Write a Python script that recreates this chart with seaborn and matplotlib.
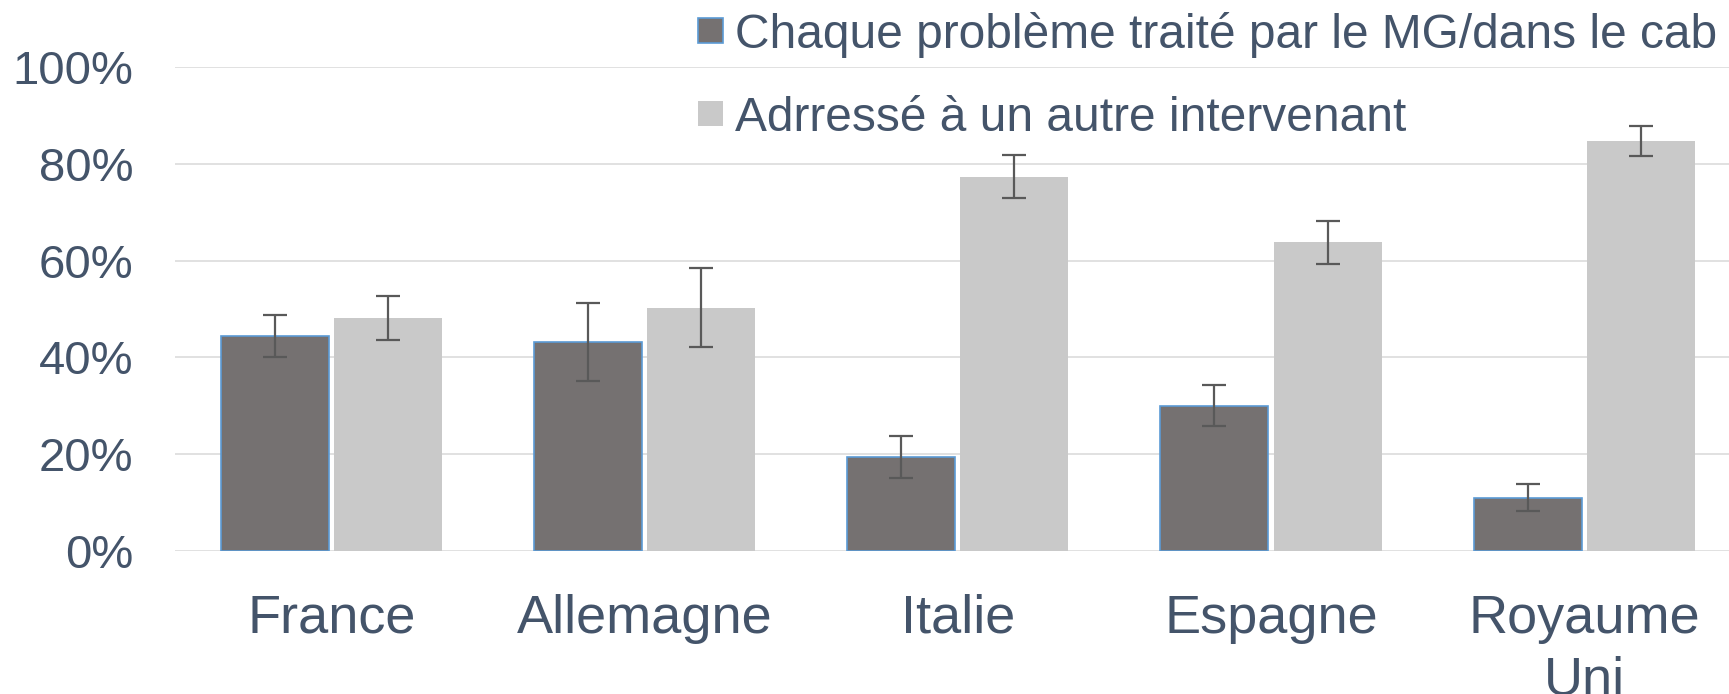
import matplotlib
matplotlib.use("Agg")
import matplotlib.pyplot as plt
import seaborn as sns
import pandas as pd
import numpy as np
from matplotlib.ticker import FuncFormatter

# ---- data ----
countries = ["France", "Allemagne", "Italie", "Espagne", "Royaume\nUni"]
series_names = ["Chaque problème traité par le MG/dans le cab",
                "Adrressé à un autre intervenant"]
treated_mg = [44.4, 43.2, 19.4, 30.0, 11.0]
treated_err = [4.4, 8.1, 4.3, 4.2, 2.8]
referred = [48.1, 50.3, 77.4, 63.8, 84.7]
referred_err = [4.5, 8.2, 4.5, 4.45, 3.15]
y_ticks = [0, 20, 40, 60, 80, 100]

df = pd.DataFrame({
    "pays": countries * 2,
    "serie": [series_names[0]] * 5 + [series_names[1]] * 5,
    "valeur": treated_mg + referred,
})
errs = treated_err + referred_err

sns.set_theme(style="white")
plt.rcParams["font.family"] = ["Liberation Sans", "DejaVu Sans"]
text_col = "#44546A"

W, H = 1729, 694
fig = plt.figure(figsize=(W / 100, H / 100), dpi=100)
ax = fig.add_axes([174.7 / W, 143.3 / H, (W - 174.7) / W, (626.7 - 143.3) / H])

palette = {series_names[0]: "#757171", series_names[1]: "#C9C9C9"}
sns.barplot(data=df, x="pays", y="valeur", hue="serie", order=countries,
            hue_order=series_names, palette=palette, width=0.7234, gap=0.046,
            errorbar=None, saturation=1, ax=ax, zorder=2, linewidth=0)

for p in ax.patches:
    fc = matplotlib.colors.to_hex(p.get_facecolor())
    if fc.lower() == "#757171":
        p.set_edgecolor("#5B9BD5")
        p.set_linewidth(1.2)

bar_containers = list(ax.containers)
for ci, cont in enumerate(bar_containers):
    for bi, bar in enumerate(cont):
        xc = bar.get_x() + bar.get_width() / 2
        val = bar.get_height()
        e = errs[ci * 5 + bi]
        ax.errorbar(xc, val, yerr=e, fmt="none", ecolor="#595959",
                    elinewidth=1.6, capsize=8.6, capthick=1.6, zorder=3)

ax.set_ylim(0, 100)
ax.set_xlim(-0.5, 4.462)
ax.set_yticks(y_ticks)
ax.yaxis.set_major_formatter(FuncFormatter(lambda v, _: f"{v:.0f}%"))
ax.grid(axis="y", color="#D9D9D9", linewidth=1.1, zorder=0)
ax.set_axisbelow(True)
for s in ax.spines.values():
    s.set_visible(False)
ax.set_xlabel("")
ax.set_ylabel("")
ax.tick_params(axis="y", length=0, pad=30, labelsize=34, labelcolor=text_col)
ax.tick_params(axis="x", length=0, pad=31, labelsize=39, labelcolor=text_col)
for lab in ax.get_xticklabels():
    lab.set_linespacing(1.29)

handles, labels = ax.get_legend_handles_labels()
if ax.get_legend() is not None:
    ax.get_legend().remove()
for h in handles:
    if matplotlib.colors.to_hex(h.get_facecolor()).lower() == "#757171":
        h.set_edgecolor("#5B9BD5")
        h.set_linewidth(1.2)
leg = fig.legend(handles, labels, loc="upper left",
                 bbox_to_anchor=(698 / W, 1 - 12 / H), frameon=False,
                 fontsize=34.5, handlelength=0.53, handleheight=0.42,
                 handletextpad=0.25, labelspacing=0.79, borderpad=0,
                 borderaxespad=0)
for t in leg.get_texts():
    t.set_color(text_col)

fig.savefig("out.png", dpi=100)
